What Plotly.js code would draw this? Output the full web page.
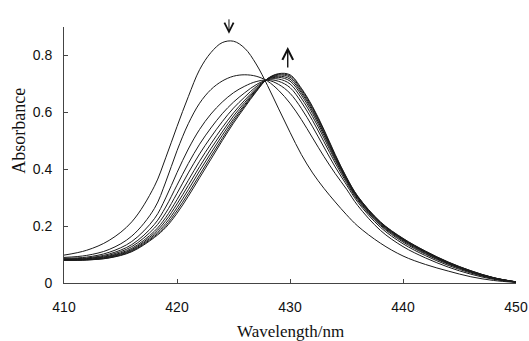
<!DOCTYPE html>
<html>
<head>
<meta charset="utf-8">
<script src="https://cdn.plot.ly/plotly-3.0.1.min.js"></script>
<style>html,body{margin:0;padding:0;background:#fff;}#chart{width:529px;height:341px;}</style>
</head>
<body>
<div id="chart"></div>
<script>
// Wavelength (nm)
var wavelength = [410,412,414,416,418,419,420,421,422,423,424,425,426,427,428,429,430,431,432,433,434,435,436,438,440,442,444,446,448,450];

// Absorbance spectra, first (initial) to last (final)
var spectrum1  = [0.098,0.115,0.150,0.215,0.340,0.440,0.550,0.655,0.750,0.810,0.845,0.850,0.825,0.770,0.695,0.612,0.530,0.452,0.387,0.333,0.285,0.240,0.200,0.140,0.095,0.065,0.042,0.022,0.009,0.002];
var spectrum2  = [0.090,0.097,0.118,0.165,0.262,0.355,0.465,0.560,0.632,0.680,0.710,0.727,0.732,0.727,0.710,0.677,0.632,0.575,0.510,0.445,0.385,0.330,0.272,0.185,0.128,0.088,0.056,0.031,0.013,0.003];
var spectrum3  = [0.087,0.091,0.108,0.146,0.226,0.299,0.388,0.471,0.540,0.594,0.636,0.669,0.692,0.708,0.713,0.698,0.667,0.614,0.549,0.478,0.408,0.345,0.284,0.196,0.138,0.096,0.062,0.035,0.015,0.003];
var spectrum4  = [0.085,0.088,0.102,0.135,0.206,0.267,0.344,0.420,0.488,0.545,0.595,0.636,0.669,0.697,0.714,0.709,0.687,0.636,0.571,0.497,0.422,0.353,0.290,0.202,0.144,0.101,0.066,0.038,0.016,0.003];
var spectrum5  = [0.083,0.086,0.098,0.128,0.193,0.246,0.315,0.387,0.454,0.513,0.567,0.615,0.654,0.690,0.715,0.717,0.700,0.650,0.585,0.510,0.431,0.359,0.294,0.205,0.148,0.104,0.068,0.039,0.017,0.003];
var spectrum6  = [0.082,0.085,0.095,0.122,0.182,0.230,0.293,0.361,0.428,0.489,0.546,0.598,0.643,0.684,0.716,0.723,0.710,0.661,0.596,0.519,0.437,0.363,0.298,0.208,0.151,0.107,0.070,0.040,0.018,0.004];
var spectrum7  = [0.081,0.083,0.093,0.118,0.175,0.219,0.278,0.343,0.409,0.472,0.531,0.587,0.635,0.680,0.717,0.727,0.717,0.669,0.604,0.526,0.442,0.366,0.300,0.211,0.153,0.108,0.071,0.041,0.018,0.004];
var spectrum8  = [0.081,0.082,0.091,0.115,0.169,0.209,0.265,0.328,0.394,0.457,0.519,0.577,0.628,0.677,0.717,0.731,0.723,0.675,0.610,0.531,0.446,0.368,0.302,0.212,0.154,0.110,0.072,0.042,0.018,0.004];
var spectrum9  = [0.080,0.081,0.089,0.112,0.164,0.201,0.254,0.315,0.380,0.445,0.508,0.569,0.623,0.674,0.718,0.734,0.728,0.681,0.616,0.536,0.449,0.370,0.304,0.214,0.156,0.111,0.073,0.043,0.019,0.004];
var spectrum10 = [0.080,0.081,0.088,0.110,0.160,0.195,0.245,0.305,0.370,0.435,0.500,0.562,0.618,0.672,0.718,0.736,0.732,0.685,0.620,0.540,0.452,0.372,0.305,0.215,0.157,0.112,0.074,0.043,0.019,0.004];

var spectra = [spectrum1,spectrum2,spectrum3,spectrum4,spectrum5,spectrum6,spectrum7,spectrum8,spectrum9,spectrum10];

// Axis ticks
var xTicks = [410,420,430,440,450];
var yTicks = [0,0.2,0.4,0.6,0.8];
var yTickLabels = ['0','0.2','0.4','0.6','0.8'];

// Arrow positions (wavelength of the decreasing and increasing bands)
var arrowDownX = 424.6, arrowDownY = 0.876;
var arrowUpX = 429.8, arrowUpY = 0.830;

var traces = spectra.map(function(s){
  return {x: wavelength, y: s, type:'scatter', mode:'lines',
          line:{color:'#1a1a1a', width:1, shape:'spline', smoothing:1},
          hoverinfo:'skip', showlegend:false};
});

var layout = {
  width:529, height:341,
  margin:{l:64, r:13, t:27, b:58, pad:0},
  paper_bgcolor:'#fff', plot_bgcolor:'#fff',
  showlegend:false,
  xaxis:{range:[410,450], tickvals:xTicks, ticktext:xTicks.map(String),
         ticks:'inside', ticklen:4, tickcolor:'#444', showline:true, linecolor:'#444', linewidth:1,
         showgrid:false, zeroline:false, ticklabelstandoff:11,
         tickfont:{family:'Liberation Sans, Arial, sans-serif', size:14, color:'#111'}},
  yaxis:{range:[0,0.9], tickvals:yTicks, ticktext:yTickLabels,
         ticks:'inside', ticklen:4, tickcolor:'#444', showline:true, linecolor:'#444', linewidth:1,
         showgrid:false, zeroline:false, ticklabelstandoff:8,
         tickfont:{family:'Liberation Sans, Arial, sans-serif', size:14, color:'#111'}},
  annotations:[
    {text:'Wavelength/nm', xref:'paper', yref:'paper', x:0.5, y:-0.145, xanchor:'center', yanchor:'top',
     showarrow:false, font:{family:'Liberation Serif, Times New Roman, serif', size:17, color:'#111'}},
    {text:'Absorbance', xref:'paper', yref:'paper', x:-0.1, y:0.594, xanchor:'center', yanchor:'middle',
     textangle:-90, showarrow:false, font:{family:'Liberation Serif, Times New Roman, serif', size:18, color:'#111'}},
    {x:arrowDownX, y:arrowDownY, xref:'x', yref:'y', ax:0, ay:-16, text:'', showarrow:true,
     arrowhead:5, arrowsize:1.8, arrowwidth:1, arrowcolor:'#111'},
    {x:arrowUpX, y:arrowUpY, xref:'x', yref:'y', ax:0, ay:22, text:'', showarrow:true,
     arrowhead:5, arrowsize:1.5, arrowwidth:1.4, arrowcolor:'#111'}
  ]
};

Plotly.newPlot('chart', traces, layout, {displayModeBar:false, staticPlot:true});
</script>
</body>
</html>
